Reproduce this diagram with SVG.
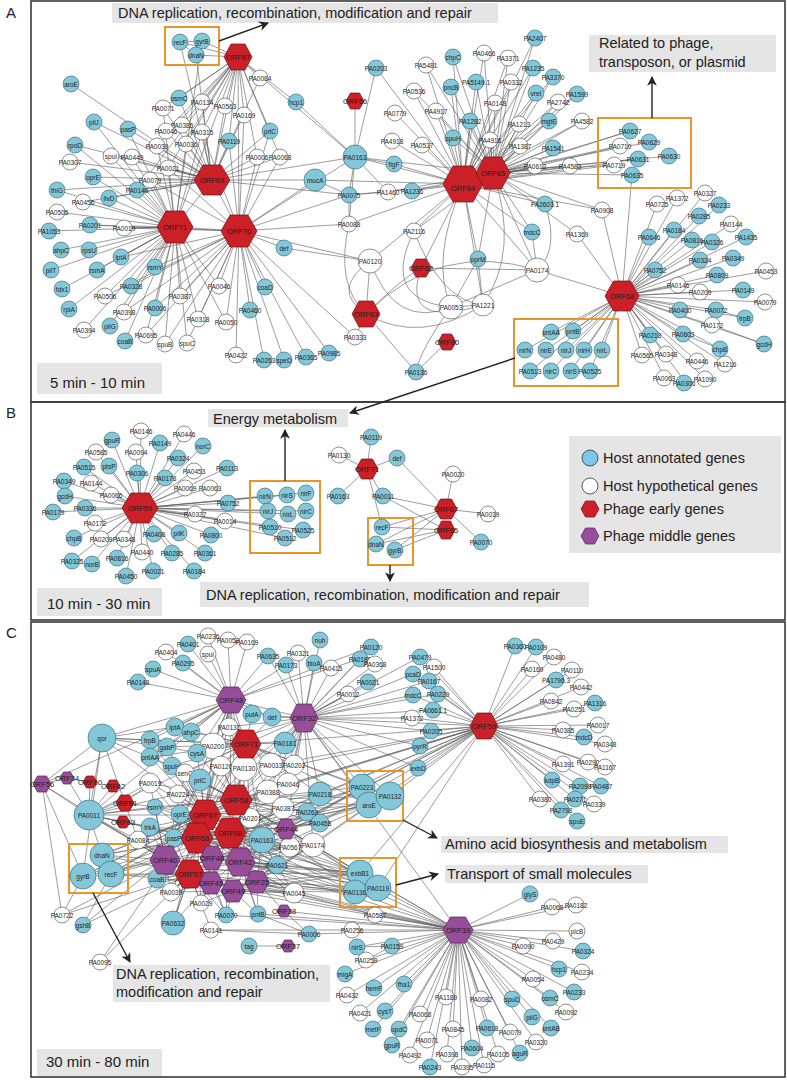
<svg xmlns="http://www.w3.org/2000/svg" xmlns:xlink="http://www.w3.org/1999/xlink" width="787" height="1080" viewBox="0 0 787 1080">
<style>
text{font-family:"Liberation Sans",Arial,sans-serif}
.b{fill:#84c7d8;stroke:#2d5f6b;stroke-width:.6}
.w{fill:#fff;stroke:#444;stroke-width:.6}
.r{fill:#cc2028;stroke:#6e1014}
.p{fill:#984d9a;stroke:#4d224f}
.n text{font-size:6.5px;text-anchor:middle;fill:#1e1e1e;dominant-baseline:central}
.n text.h{font-size:7.5px}
.e{fill:none;stroke:#5a5a5a;stroke-width:.6}
.fr{fill:none;stroke:#3a3a3a;stroke-width:1.6}
.lb{fill:#e5e5e5}
.lt{font-size:14.5px;fill:#222}
.ob{fill:none;stroke:#e8952b;stroke-width:2}
.ar{stroke:#222;stroke-width:1.4;fill:none;marker-end:url(#ah)}
</style>
<defs>
<polygon id="hx" points="-1,0 -0.5,-1 0.5,-1 1,0 0.5,1 -0.5,1" vector-effect="non-scaling-stroke" style="stroke-width:0.7"/>
<marker id="ah" viewBox="0 0 10 10" refX="9" refY="5" markerWidth="7" markerHeight="7" orient="auto"><path d="M0 0L10 5L0 10L3 5z" fill="#222"/></marker>
</defs>
<rect width="787" height="1080" fill="#fff"/>
<g id="frames">
<rect class="fr" x="31" y="1" width="754" height="401"/>
<rect class="fr" x="31" y="402" width="754" height="218"/>
<rect class="fr" x="31" y="622" width="754" height="455"/>
<text x="6" y="18" style="font-size:15px;fill:#222">A</text>
<text x="6" y="418" style="font-size:15px;fill:#222">B</text>
<text x="6" y="638" style="font-size:15px;fill:#222">C</text>
</g>
<g id="connectors">
<path class="e" d="M238 57L180 42M238 57L202 41M238 57L196 55M238 57L260 78M238 57L179 98M238 57L202 102M238 57L225 106M238 57L244 115M238 57L202 132M238 57L229 141M238 57L186 144M238 57L157 146M238 57L270 131M238 57L257 157M238 57L280 157M238 57L296 102M238 57L168 168M238 57L182 125M238 57L166 131M238 57L163 108M238 57L212 180M238 57L239 231M238 57L175 227M238 57L355 157M238 57L137 190M180 42L202 41M180 42L196 55M202 41L196 55M180 42L212 180M196 55L212 180M202 41L175 227"/>
<path class="e" d="M212 180L71 84M212 180L94 122M212 180L128 129M212 180L163 108M212 180L179 98M212 180L202 102M212 180L225 106M212 180L244 115M212 180L182 125M212 180L166 131M212 180L202 132M212 180L229 141M212 180L157 146M212 180L186 144M212 180L132 157M212 180L111 156M212 180L75 145M212 180L70 162M212 180L93 177M212 180L150 180M212 180L57 190M212 180L137 190M212 180L168 168M212 180L270 131M212 180L257 157M212 180L280 157M212 180L315 180M212 180L355 157M212 180L260 78M212 180L175 227M212 180L239 231M212 180L349 195M212 180L83 202M212 180L109 198"/>
<path class="e" d="M175 227L57 190M175 227L83 202M175 227L109 198M175 227L137 190M175 227L57 212M175 227L49 231M175 227L90 225M175 227L124 228M175 227L61 250M175 227L89 250M175 227L121 257M175 227L51 270M175 227L97 270M175 227L155 267M175 227L62 289M175 227L131 286M175 227L105 296M175 227L69 309M175 227L124 312M175 227L155 308M175 227L84 330M175 227L110 326M175 227L125 341M175 227L146 335M175 227L165 344M175 227L187 343M175 227L180 296M175 227L198 319M175 227L219 286M175 227L226 322M175 227L93 177M175 227L150 180M175 227L132 157M175 227L157 146M175 227L168 168M175 227L128 129M175 227L94 122M175 227L75 145M175 227L111 156M175 227L163 108M175 227L239 231M175 227L202 132M175 227L186 144"/>
<path class="e" d="M239 231L284 248M239 231L265 287M239 231L250 310M239 231L226 322M239 231L198 319M239 231L219 286M239 231L236 355M239 231L264 360M239 231L284 360M239 231L306 357M239 231L329 353M239 231L355 337M239 231L180 296M239 231L187 343M239 231L165 344M239 231L155 308M239 231L155 267M239 231L121 257M239 231L131 286M239 231L124 312M239 231L315 180M239 231L349 224M239 231L370 261M239 231L349 195M239 231L355 157M239 231L90 225M239 231L124 228M239 231L150 180M239 231L168 168M239 231L229 141M239 231L257 157M239 231L270 131M239 231L280 157M239 231L244 115M239 231L202 132M239 231L146 335M239 231L105 296"/>
<path class="e" d="M296 102L355 157M355 101L355 157M376 68L355 157M376 68L463 184M355 157L349 195M355 157L394 164M355 157L388 192M355 157L463 184M355 157L493 173M355 157L349 224M315 180L463 184M315 180L349 195M284 248L370 261M349 195L463 184M349 195L388 192M349 195L349 224M349 224L463 184M370 261L463 184M370 261L366 314M394 164L463 184M388 192L493 173"/>
<path class="e" d="M463 184L535 38M463 184L484 53M463 184L508 58M463 184L453 57M463 184L426 65M463 184L533 68M463 184L553 77M463 184L476 82M463 184L511 82M463 184L451 87M463 184L414 91M463 184L536 93M463 184L577 94M463 184L495 103M463 184L558 102M463 184L395 113M463 184L436 111M463 184L470 121M463 184L519 124M463 184L549 121M463 184L582 121M463 184L392 141M463 184L422 145M463 184L453 138M463 184L490 140M463 184L520 146M463 184L553 148M463 184L535 166M463 184L570 166M463 184L630 131M463 184L620 146M463 184L614 165M463 184L638 159M463 184L412 191M463 184L545 204M463 184L532 232M463 184L414 231M463 184L478 259M463 184L537 270M463 184L483 305M463 184L421 268M463 184L602 210"/>
<path class="e" d="M493 173L535 38M493 173L484 53M493 173L508 58M493 173L453 57M493 173L426 65M493 173L533 68M493 173L553 77M493 173L476 82M493 173L511 82M493 173L451 87M493 173L414 91M493 173L536 93M493 173L577 94M493 173L495 103M493 173L558 102M493 173L436 111M493 173L470 121M493 173L519 124M493 173L549 121M493 173L582 121M493 173L453 138M493 173L490 140M493 173L520 146M493 173L553 148M493 173L535 166M493 173L570 166M493 173L630 131M493 173L649 142M493 173L620 146M493 173L669 156M493 173L638 159M493 173L614 165M493 173L632 175M493 173L545 204M493 173L532 232M493 173L602 210M493 173L577 234M493 173L478 259M493 173L537 270M493 173L412 191M493 173L414 231"/>
<path class="e" d="M463 184Q430 260 451 307M493 173Q520 250 483 305M414 231Q380 300 451 307M370 261Q395 330 451 307M366 314Q440 240 537 270M366 314Q420 345 483 305M421 268L537 270M366 314Q400 280 421 268M451 307L483 305M451 307L537 270M478 259L451 307M478 259L483 305M532 232L537 270M545 204Q560 250 537 270M366 314L355 337M366 314L416 372M447 342L416 372M451 307Q420 350 416 372M370 261Q330 290 366 314M349 224Q335 285 366 314M414 231Q440 300 483 305M421 268Q400 330 483 305"/>
<path class="e" d="M622 296L657 204M622 296L677 198M622 296L705 193M622 296L719 205M622 296L699 216M622 296L731 224M622 296L649 237M622 296L674 230M622 296L692 240M622 296L712 242M622 296L746 237M622 296L700 260M622 296L733 258M622 296L655 270M622 296L717 275M622 296L766 271M622 296L678 285M622 296L700 292M622 296L743 290M622 296L765 302M622 296L680 310M622 296L716 310M622 296L745 318M622 296L712 325M622 296L650 335M622 296L683 334M622 296L764 344M622 296L720 349M622 296L642 355M622 296L666 354M622 296L697 361M622 296L725 364M622 296L665 378M622 296L685 382M622 296L705 379M622 296L551 332M622 296L573 331M622 296L525 350M622 296L546 350M622 296L566 350M622 296L584 350M622 296L602 350M622 296L530 371M622 296L551 371M622 296L571 371M622 296L590 371M622 296L537 270M622 296L577 234M622 296L602 210M622 296L632 175M716 310L745 318M712 325L764 344M683 334L720 349"/>
<path class="e" d="M140 508L141 431M140 508L184 434M140 508L112 440M140 508L160 443M140 508L203 446M140 508L96 452M140 508L136 452M140 508L178 458M140 508L227 468M140 508L84 467M140 508L109 466M140 508L137 473M140 508L194 471M140 508L165 478M140 508L64 481M140 508L91 483M140 508L185 488M140 508L210 488M140 508L65 496M140 508L111 495M140 508L228 503M140 508L85 508M140 508L53 512M140 508L195 514M140 508L225 521M140 508L95 523M140 508L154 534M140 508L179 533M140 508L211 535M140 508L74 538M140 508L101 539M140 508L124 539M140 508L142 552M140 508L172 553M140 508L205 553M140 508L72 561M140 508L92 564M140 508L117 558M140 508L153 571M140 508L126 576M140 508L194 571M140 508L265 496M140 508L287 495M140 508L306 493M140 508L268 511M140 508L288 514M140 508L306 511M140 508L270 527M140 508L303 530M140 508L285 538"/>
<path class="e" d="M367 469L371 437M367 469L339 455M367 469L397 458M367 469L338 496M367 469L383 496M367 469L382 527M446 509L397 458M446 509L453 474M446 509L488 514M446 509L481 542M446 509L383 496M446 509L382 527M446 509L376 544M446 509L395 550M446 530L383 496M446 530L382 527M446 530L376 544M446 530L395 550"/>
<path class="e" d="M231 700L208 636M231 700L228 640M231 700L247 642M231 700L188 644M231 700L166 652M231 700L208 654M231 700L183 663M231 700L153 669M231 700L138 682M231 700L268 656M231 700L286 665M231 700L102 738M231 700L175 727M231 700L191 732M231 700L229 727M231 700L252 714M231 700L272 717M231 700L213 746M231 700L246 744M231 700L167 747M231 700L197 753M231 700L150 740M231 700L150 757M231 700L221 766M231 700L244 768M231 700L205 815M231 700L197 838M231 700L190 874M231 700L165 860M231 700L89 815M231 700L42 784M231 700L360 659M231 700L371 647M231 700L304 718M231 700L236 800M231 700L230 833"/>
<path class="e" d="M304 718L320 640M304 718L371 647M304 718L298 653M304 718L314 663M304 718L331 668M304 718L360 659M304 718L375 664M304 718L368 682M304 718L348 694M304 718L286 665M304 718L268 656M304 718L272 717M304 718L252 714M304 718L285 743M304 718L229 727M304 718L246 744M304 718L271 765M304 718L294 765M304 718L244 768M304 718L236 800M304 718L230 833M304 718L286 829M304 718L320 794M304 718L268 792M304 718L288 784M304 718L420 657M304 718L413 674M304 718L429 681M304 718L413 695M304 718L438 694M304 718L412 718M304 718L433 710M304 718L431 731M304 718L420 746M304 718L418 768M304 718L362 787M304 718L390 796M304 718L369 805M304 718L484 726M304 718L458 930M304 718L213 746M304 718L205 815M304 718L262 840M304 718L313 845"/>
<path class="e" d="M484 726L515 646M484 726L536 647M484 726L554 657M484 726L532 669M484 726L572 670M484 726L556 680M484 726L581 687M484 726L551 701M484 726L595 703M484 726L574 709M484 726L598 725M484 726L563 730M484 726L584 737M484 726L605 744M484 726L563 764M484 726L588 762M484 726L605 767M484 726L552 780M484 726L580 786M484 726L601 786M484 726L540 799M484 726L575 799M484 726L594 804M484 726L561 810M484 726L577 821M484 726L420 657M484 726L434 667M484 726L413 674M484 726L429 681M484 726L413 695M484 726L438 694M484 726L433 710M484 726L412 718M484 726L431 731M484 726L420 746M484 726L418 768M484 726L390 796M484 726L320 794M484 726L307 812M484 726L320 823M484 726L313 845M484 726L286 829M484 726L236 800M484 726L230 833M484 726L262 840M484 726L288 784M484 726L268 792M484 726L294 765M484 726L271 765M484 726L246 744M484 726L360 873M484 726L378 888"/>
<path class="e" d="M458 930L530 894M458 930L552 907M458 930L576 905M458 930L577 931M458 930L553 941M458 930L523 946M458 930L583 951M458 930L392 946M458 930L559 969M458 930L582 972M458 930L404 984M458 930L533 979M458 930L574 992M458 930L446 997M458 930L481 999M458 930L512 999M458 930L550 998M458 930L566 1012M458 930L420 1014M458 930L532 1017M458 930L399 1029M458 930L453 1029M458 930L487 1028M458 930L510 1032M458 930L551 1028M458 930L427 1040M458 930L536 1042M458 930L447 1054M458 930L472 1048M458 930L498 1054M458 930L520 1053M458 930L410 1055M458 930L430 1067M458 930L462 1067M458 930L484 1065M458 930L392 1045M458 930L373 1029M458 930L385 1011M458 930L374 988M458 930L345 974M458 930L347 995M458 930L360 1013M458 930L357 947M458 930L366 960M458 930L352 930M458 930L309 934M458 930L375 915M458 930L294 893M458 930L378 888M458 930L355 892M458 930L360 873M458 930L313 845M458 930L262 840M458 930L240 862M458 930L257 882M458 930L233 891M458 930L211 883M458 930L190 874M458 930L226 915M458 930L258 914M458 930L284 911"/>
<path class="e" d="M246 744L213 746M246 744L229 727M246 744L252 714M246 744L272 717M246 744L285 743M246 744L244 768M246 744L221 766M246 744L271 765M246 744L294 765M246 744L197 753M246 744L191 732M246 744L175 727M246 744L167 747M246 744L150 740M246 744L150 757M246 744L172 766M246 744L185 773M246 744L200 780M246 744L236 800M246 744L205 815M246 744L268 792M246 744L288 784M246 744L250 818M246 744L230 833M246 744L197 838M246 744L262 840M246 744L320 794M246 744L102 738M246 744L89 815M246 744L165 860M246 744L240 862M246 744L362 787M246 744L390 796M246 744L369 805"/>
<path class="e" d="M236 800L185 773M236 800L200 780M236 800L178 794M236 800L150 783M236 800L155 807M236 800L180 814M236 800L268 792M236 800L288 784M236 800L283 808M236 800L250 818M236 800L307 812M236 800L320 794M236 800L320 823M236 800L262 840M236 800L290 846M236 800L313 845M236 800L277 865M236 800L221 766M236 800L244 768M236 800L271 765M236 800L294 765M236 800L213 746M236 800L197 753M236 800L172 766M236 800L150 757M236 800L89 815M236 800L138 840M236 800L362 787M236 800L369 805M236 800L390 796M236 800L360 873M236 800L355 892M236 800L378 888M236 800L102 855M236 800L111 874M236 800L83 876M236 800L294 893"/>
<path class="e" d="M205 815L150 783M205 815L178 794M205 815L155 807M205 815L180 814M205 815L150 827M205 815L174 838M205 815L138 840M205 815L89 815M205 815L185 773M205 815L200 780M205 815L221 766M205 815L244 768M205 815L213 746M205 815L197 753M205 815L172 766M205 815L150 757M205 815L167 747M205 815L150 740M205 815L102 738M205 815L250 818M205 815L268 792M205 815L283 808M205 815L262 840M205 815L102 855M205 815L111 874M205 815L83 876M205 815L157 879M205 815L171 892M205 815L277 865M205 815L313 845M205 815L320 794M205 815L369 805M205 815L360 873M205 815L378 888"/>
<path class="e" d="M197 838L150 827M197 838L174 838M197 838L138 840M197 838L89 815M197 838L155 807M197 838L180 814M197 838L178 794M197 838L150 783M197 838L102 855M197 838L111 874M197 838L83 876M197 838L157 879M197 838L171 892M197 838L201 903M197 838L226 915M197 838L173 923M197 838L262 840M197 838L250 818M197 838L283 808M197 838L290 846M197 838L313 845M197 838L277 865M197 838L294 893M197 838L355 892M197 838L360 873M197 838L378 888M197 838L369 805M197 838L362 787M197 838L320 823"/>
<path class="e" d="M230 833L262 840M230 833L250 818M230 833L283 808M230 833L268 792M230 833L288 784M230 833L290 846M230 833L313 845M230 833L277 865M230 833L307 812M230 833L320 823M230 833L320 794M230 833L294 893M230 833L258 914M230 833L226 915M230 833L201 903M230 833L171 892M230 833L157 879M230 833L174 838M230 833L150 827M230 833L180 814M230 833L155 807M230 833L360 873M230 833L355 892M230 833L378 888M230 833L362 787M230 833L369 805M230 833L390 796M230 833L102 855M230 833L111 874"/>
<path class="e" d="M190 874L157 879M190 874L171 892M190 874L201 903M190 874L226 915M190 874L173 923M190 874L100 962M190 874L211 930M190 874L83 876M190 874L111 874M190 874L102 855M190 874L62 915M190 874L83 925M190 874L138 840M190 874L150 827M190 874L174 838M190 874L89 815M190 874L294 893M190 874L355 892M190 874L360 873M190 874L262 840M190 874L277 865M165 860L102 855M165 860L111 874M165 860L83 876M165 860L89 815M165 860L138 840M165 860L150 827M165 860L174 838M165 860L155 807M165 860L180 814M165 860L157 879M165 860L171 892M165 860L200 780M165 860L185 773M165 860L150 783M165 860L62 915M165 860L83 925M165 860L355 892M165 860L360 873M165 860L262 840M165 860L313 845M165 860L42 784"/>
<path class="e" d="M212 858L174 838M212 858L150 827M212 858L180 814M212 858L262 840M212 858L250 818M212 858L277 865M212 858L290 846M212 858L313 845M212 858L360 873M212 858L378 888M212 858L157 879M212 858L171 892M212 858L201 903M240 862L262 840M240 862L250 818M240 862L283 808M240 862L277 865M240 862L290 846M240 862L313 845M240 862L294 893M240 862L258 914M240 862L360 873M240 862L355 892M240 862L378 888M240 862L369 805M240 862L362 787M240 862L174 838M240 862L180 814M240 862L157 879M211 883L157 879M211 883L171 892M211 883L201 903M211 883L226 915M211 883L173 923M211 883L294 893M211 883L355 892M211 883L262 840M211 883L277 865M211 883L138 840M211 883L111 874M233 891L258 914M233 891L226 915M233 891L294 893M233 891L355 892M233 891L360 873M233 891L277 865M233 891L262 840M233 891L313 845M233 891L171 892M233 891L201 903M257 882L277 865M257 882L294 893M257 882L313 845M257 882L290 846M257 882L262 840M257 882L355 892M257 882L360 873M257 882L378 888M257 882L258 914M257 882L284 911M257 882L369 805"/>
<path class="e" d="M286 829L262 840M286 829L290 846M286 829L313 845M286 829L307 812M286 829L320 823M286 829L320 794M286 829L283 808M286 829L268 792M286 829L277 865M286 829L362 787M286 829L369 805M286 829L390 796M286 829L360 873M286 829L378 888M42 784L89 815M42 784L102 738M42 784L83 876M42 784L62 915M42 784L67 778M67 778L89 815M67 778L90 782M102 738L89 815M102 738L175 727M102 738L150 740M102 738L167 747M102 738L150 757M102 738L83 876M102 738L138 840M125 803L89 815M125 803L155 807M125 803L150 783M123 822L89 815M123 822L150 827M113 786L89 815M90 782L89 815M89 815L102 855M89 815L150 783M89 815L178 794M89 815L155 807M89 815L138 840M89 815L150 827M249 946L288 946M211 930L309 934M211 930L352 930M309 934L284 911M309 934L258 914M100 962L157 879M173 923L190 874M83 925L111 874M62 915L83 876M375 915L294 893M357 947L392 946M366 960L392 946M362 787L369 805M369 805L390 796M362 787L390 796M360 873L378 888M378 888L355 892M360 873L355 892M175 727L191 732M150 740L167 747M197 753L213 746M167 747L197 753M150 757L172 766M191 732L197 753"/>
</g>
<g id="labels">
<rect class="lb" x="112" y="3" width="386" height="20"/>
<text class="lt" x="118" y="18">DNA replication, recombination, modification and repair</text>
<rect class="ob" x="165" y="27" width="54" height="38"/>
<line class="ar" x1="219" y1="41" x2="268" y2="23"/>
<rect class="lb" x="589" y="35" width="187" height="37"/>
<text class="lt" x="599" y="48">Related to phage,</text>
<text class="lt" x="599" y="67">transposon, or plasmid</text>
<rect class="ob" x="598" y="118" width="93" height="70"/>
<line class="ar" x1="652" y1="118" x2="652" y2="77"/>
<rect class="ob" x="514" y="319" width="104" height="67"/>
<line class="ar" x1="515" y1="358" x2="350" y2="413"/>
<rect class="lb" x="37" y="363" width="125" height="31"/>
<text class="lt" x="50" y="388" style="font-size:15px">5 min - 10 min</text>
<rect class="lb" x="208" y="409" width="140" height="18"/>
<text class="lt" x="213" y="424">Energy metabolism</text>
<rect class="ob" x="250" y="481" width="70" height="72"/>
<line class="ar" x1="285" y1="481" x2="285" y2="430"/>
<rect class="ob" x="368" y="518" width="45" height="47"/>
<line class="ar" x1="390" y1="565" x2="390" y2="581"/>
<rect class="lb" x="200" y="582" width="389" height="25"/>
<text class="lt" x="206" y="600">DNA replication, recombination, modification and repair</text>
<rect class="lb" x="37" y="588" width="125" height="28"/>
<text class="lt" x="47" y="609" style="font-size:15px">10 min - 30 min</text>
<rect class="lb" x="569" y="436" width="212" height="117"/>
<circle cx="590" cy="458" r="8" fill="#7cc8ec" stroke="#333" stroke-width=".8"/>
<text class="lt" x="603" y="463">Host annotated genes</text>
<circle cx="590" cy="486" r="8" fill="#fff" stroke="#333" stroke-width=".8"/>
<text class="lt" x="603" y="491">Host hypothetical genes</text>
<use xlink:href="#hx" class="r" transform="translate(590 509) scale(9 8)"/>
<text class="lt" x="603" y="514">Phage early genes</text>
<use xlink:href="#hx" class="p" transform="translate(590 536) scale(9 8)"/>
<text class="lt" x="603" y="541">Phage middle genes</text>
<rect class="ob" x="347" y="771" width="56" height="50"/>
<rect class="ob" x="340" y="858" width="56" height="49"/>
<rect class="ob" x="69" y="844" width="59" height="49"/>
<rect class="lb" x="441" y="836" width="287" height="17"/>
<text class="lt" x="445" y="849">Amino acid biosynthesis and metabolism</text>
<line class="ar" x1="403" y1="820" x2="437" y2="838"/>
<rect class="lb" x="445" y="865" width="203" height="18"/>
<text class="lt" x="447" y="879">Transport of small molecules</text>
<line class="ar" x1="396" y1="885" x2="438" y2="874"/>
<rect class="lb" x="113" y="965" width="217" height="37"/>
<text class="lt" x="116" y="979">DNA replication, recombination,</text>
<text class="lt" x="116" y="997">modification and repair</text>
<line class="ar" x1="93" y1="893" x2="130" y2="962"/>
<rect class="lb" x="37" y="1049" width="125" height="27"/>
<text class="lt" x="46" y="1067" style="font-size:15px">30 min - 80 min</text>
</g>
<g id="nodesA" class="n">
<g id="a-recF"><circle class="b" cx="180" cy="42" r="8"/><text x="180" y="42">recF</text></g>
<g id="a-gyrB"><circle class="b" cx="202" cy="41" r="8"/><text x="202" y="41">gyrB</text></g>
<g id="a-dnaN"><circle class="b" cx="196" cy="55" r="8"/><text x="196" y="55">dnaN</text></g>
<g id="a-PA0084"><circle class="w" cx="260" cy="78" r="8"/><text x="260" y="78">PA0084</text></g>
<g id="a-aroE"><circle class="b" cx="71" cy="84" r="8"/><text x="71" y="84">aroE</text></g>
<g id="a-osmC"><circle class="b" cx="179" cy="98" r="8"/><text x="179" y="98">osmC</text></g>
<g id="a-PA0134"><circle class="w" cx="202" cy="102" r="8"/><text x="202" y="102">PA0134</text></g>
<g id="a-PA0563"><circle class="w" cx="225" cy="106" r="8"/><text x="225" y="106">PA0563</text></g>
<g id="a-PA0071"><circle class="w" cx="163" cy="108" r="8"/><text x="163" y="108">PA0071</text></g>
<g id="a-PA0169"><circle class="w" cx="244" cy="115" r="8"/><text x="244" y="115">PA0169</text></g>
<g id="a-hcp1"><circle class="b" cx="296" cy="102" r="8"/><text x="296" y="102">hcp1</text></g>
<g id="a-pilJ"><circle class="b" cx="94" cy="122" r="8"/><text x="94" y="122">pilJ</text></g>
<g id="a-pasP"><circle class="b" cx="128" cy="129" r="8"/><text x="128" y="129">pasP</text></g>
<g id="a-PA0385"><circle class="w" cx="182" cy="125" r="8"/><text x="182" y="125">PA0385</text></g>
<g id="a-PA0046"><circle class="w" cx="166" cy="131" r="8"/><text x="166" y="131">PA0046</text></g>
<g id="a-PA0315"><circle class="w" cx="202" cy="132" r="8"/><text x="202" y="132">PA0315</text></g>
<g id="a-PA0119"><circle class="b" cx="229" cy="141" r="8"/><text x="229" y="141">PA0119</text></g>
<g id="a-prlC"><circle class="b" cx="270" cy="131" r="8"/><text x="270" y="131">prlC</text></g>
<g id="a-rpoD"><circle class="b" cx="75" cy="145" r="8"/><text x="75" y="145">rpoD</text></g>
<g id="a-spuI"><circle class="w" cx="111" cy="156" r="8"/><text x="111" y="156">spuI</text></g>
<g id="a-PA0449"><circle class="w" cx="132" cy="157" r="8"/><text x="132" y="157">PA0449</text></g>
<g id="a-PA0039"><circle class="w" cx="157" cy="146" r="8"/><text x="157" y="146">PA0039</text></g>
<g id="a-PA0036"><circle class="w" cx="186" cy="144" r="8"/><text x="186" y="144">PA0036</text></g>
<g id="a-PA0307"><circle class="w" cx="70" cy="162" r="8"/><text x="70" y="162">PA0307</text></g>
<g id="a-PA0021"><circle class="w" cx="168" cy="168" r="8"/><text x="168" y="168">PA0021</text></g>
<g id="a-PA0006"><circle class="w" cx="257" cy="157" r="8"/><text x="257" y="157">PA0006</text></g>
<g id="a-PA0068"><circle class="w" cx="280" cy="157" r="8"/><text x="280" y="157">PA0068</text></g>
<g id="a-oprE"><circle class="b" cx="93" cy="177" r="8"/><text x="93" y="177">oprE</text></g>
<g id="a-PA0079"><circle class="w" cx="150" cy="180" r="8"/><text x="150" y="180">PA0079</text></g>
<g id="a-thiG"><circle class="b" cx="57" cy="190" r="8"/><text x="57" y="190">thiG</text></g>
<g id="a-PA0146"><circle class="b" cx="137" cy="190" r="8"/><text x="137" y="190">PA0146</text></g>
<g id="a-PA0456"><circle class="w" cx="83" cy="202" r="8"/><text x="83" y="202">PA0456</text></g>
<g id="a-ilvD"><circle class="b" cx="109" cy="198" r="8"/><text x="109" y="198">ilvD</text></g>
<g id="a-PA0505"><circle class="w" cx="57" cy="212" r="8"/><text x="57" y="212">PA0505</text></g>
<g id="a-PA1053"><circle class="b" cx="49" cy="231" r="8"/><text x="49" y="231">PA1053</text></g>
<g id="a-PA0201"><circle class="b" cx="90" cy="225" r="8"/><text x="90" y="225">PA0201</text></g>
<g id="a-PA0019"><circle class="w" cx="124" cy="228" r="8"/><text x="124" y="228">PA0019</text></g>
<g id="a-ahpC"><circle class="b" cx="61" cy="250" r="8"/><text x="61" y="250">ahpC</text></g>
<g id="a-rpsU"><circle class="b" cx="89" cy="250" r="8"/><text x="89" y="250">rpsU</text></g>
<g id="a-lptA"><circle class="b" cx="121" cy="257" r="8"/><text x="121" y="257">lptA</text></g>
<g id="a-pilT"><circle class="b" cx="51" cy="270" r="8"/><text x="51" y="270">pilT</text></g>
<g id="a-rsmA"><circle class="b" cx="97" cy="270" r="8"/><text x="97" y="270">rsmA</text></g>
<g id="a-rsmY"><circle class="b" cx="155" cy="267" r="8"/><text x="155" y="267">rsmY</text></g>
<g id="a-fdx1"><circle class="b" cx="62" cy="289" r="8"/><text x="62" y="289">fdx1</text></g>
<g id="a-PA0328"><circle class="b" cx="131" cy="286" r="8"/><text x="131" y="286">PA0328</text></g>
<g id="a-PA0506"><circle class="w" cx="105" cy="296" r="8"/><text x="105" y="296">PA0506</text></g>
<g id="a-PA0387"><circle class="w" cx="180" cy="296" r="8"/><text x="180" y="296">PA0387</text></g>
<g id="a-PA0046b"><circle class="w" cx="219" cy="286" r="8"/><text x="219" y="286">PA0046</text></g>
<g id="a-coaD"><circle class="b" cx="265" cy="287" r="8"/><text x="265" y="287">coaD</text></g>
<g id="a-def"><circle class="b" cx="284" cy="248" r="8"/><text x="284" y="248">def</text></g>
<g id="a-rpiA"><circle class="b" cx="69" cy="309" r="8"/><text x="69" y="309">rpiA</text></g>
<g id="a-PA0398"><circle class="w" cx="124" cy="312" r="8"/><text x="124" y="312">PA0398</text></g>
<g id="a-PA0006b"><circle class="b" cx="155" cy="308" r="8"/><text x="155" y="308">PA0006</text></g>
<g id="a-PA0318"><circle class="w" cx="198" cy="319" r="8"/><text x="198" y="319">PA0318</text></g>
<g id="a-PA0050"><circle class="w" cx="226" cy="322" r="8"/><text x="226" y="322">PA0050</text></g>
<g id="a-PA0460"><circle class="b" cx="250" cy="310" r="8"/><text x="250" y="310">PA0460</text></g>
<g id="a-PA0394"><circle class="w" cx="84" cy="330" r="8"/><text x="84" y="330">PA0394</text></g>
<g id="a-pilG"><circle class="b" cx="110" cy="326" r="8"/><text x="110" y="326">pilG</text></g>
<g id="a-coaB"><circle class="b" cx="125" cy="341" r="8"/><text x="125" y="341">coaB</text></g>
<g id="a-PA0695"><circle class="w" cx="146" cy="335" r="8"/><text x="146" y="335">PA0695</text></g>
<g id="a-spuB"><circle class="w" cx="165" cy="344" r="8"/><text x="165" y="344">spuB</text></g>
<g id="a-spuC"><circle class="w" cx="187" cy="343" r="8"/><text x="187" y="343">spuC</text></g>
<g id="a-PA0422"><circle class="w" cx="236" cy="355" r="8"/><text x="236" y="355">PA0422</text></g>
<g id="a-PA0263"><circle class="b" cx="264" cy="360" r="8"/><text x="264" y="360">PA0263</text></g>
<g id="a-speD"><circle class="b" cx="284" cy="360" r="8"/><text x="284" y="360">speD</text></g>
<g id="a-PA0365"><circle class="b" cx="306" cy="357" r="8"/><text x="306" y="357">PA0365</text></g>
<g id="a-PA0985"><circle class="b" cx="329" cy="353" r="8"/><text x="329" y="353">PA0985</text></g>
<g id="a-mucA"><circle class="b" cx="315" cy="180" r="11"/><text x="315" y="180">mucA</text></g>
<g id="a-PA0163"><circle class="b" cx="355" cy="157" r="12"/><text x="355" y="157">PA0163</text></g>
<g id="a-PA0203"><circle class="b" cx="376" cy="68" r="8"/><text x="376" y="68">PA0203</text></g>
<g id="a-figF"><circle class="b" cx="394" cy="164" r="8"/><text x="394" y="164">figF</text></g>
<g id="a-PA0075"><circle class="b" cx="349" cy="195" r="8"/><text x="349" y="195">PA0075</text></g>
<g id="a-PA1460"><circle class="w" cx="388" cy="192" r="8"/><text x="388" y="192">PA1460</text></g>
<g id="a-PA0088"><circle class="w" cx="349" cy="224" r="8"/><text x="349" y="224">PA0088</text></g>
<g id="a-PA0120"><circle class="w" cx="370" cy="261" r="12"/><text x="370" y="261">PA0120</text></g>
<g id="a-PA0333"><circle class="w" cx="355" cy="337" r="8"/><text x="355" y="337">PA0333</text></g>
<g id="a-PA2407"><circle class="b" cx="535" cy="38" r="8"/><text x="535" y="38">PA2407</text></g>
<g id="a-PA0466"><circle class="w" cx="484" cy="53" r="8"/><text x="484" y="53">PA0466</text></g>
<g id="a-PA3371"><circle class="w" cx="508" cy="58" r="8"/><text x="508" y="58">PA3371</text></g>
<g id="a-chpC"><circle class="b" cx="453" cy="57" r="8"/><text x="453" y="57">chpC</text></g>
<g id="a-PA5481"><circle class="w" cx="426" cy="65" r="8"/><text x="426" y="65">PA5481</text></g>
<g id="a-PA1235"><circle class="b" cx="533" cy="68" r="8"/><text x="533" y="68">PA1235</text></g>
<g id="a-PA3370"><circle class="b" cx="553" cy="77" r="8"/><text x="553" y="77">PA3370</text></g>
<g id="a-PA5149.1"><circle class="b" cx="476" cy="82" r="8"/><text x="476" y="82">PA5149.1</text></g>
<g id="a-PA0332"><circle class="w" cx="511" cy="82" r="8"/><text x="511" y="82">PA0332</text></g>
<g id="a-pncB"><circle class="b" cx="451" cy="87" r="8"/><text x="451" y="87">pncB</text></g>
<g id="a-PA0536"><circle class="w" cx="414" cy="91" r="8"/><text x="414" y="91">PA0536</text></g>
<g id="a-vreI"><circle class="b" cx="536" cy="93" r="8"/><text x="536" y="93">vreI</text></g>
<g id="a-PA1599"><circle class="b" cx="577" cy="94" r="8"/><text x="577" y="94">PA1599</text></g>
<g id="a-PA0148"><circle class="w" cx="495" cy="103" r="8"/><text x="495" y="103">PA0148</text></g>
<g id="a-PA2742"><circle class="w" cx="558" cy="102" r="8"/><text x="558" y="102">PA2742</text></g>
<g id="a-PA0779"><circle class="w" cx="395" cy="113" r="8"/><text x="395" y="113">PA0779</text></g>
<g id="a-PA4917"><circle class="w" cx="436" cy="111" r="8"/><text x="436" y="111">PA4917</text></g>
<g id="a-PA1282"><circle class="b" cx="470" cy="121" r="8"/><text x="470" y="121">PA1282</text></g>
<g id="a-PA1213"><circle class="w" cx="519" cy="124" r="8"/><text x="519" y="124">PA1213</text></g>
<g id="a-mgtE"><circle class="b" cx="549" cy="121" r="8"/><text x="549" y="121">mgtE</text></g>
<g id="a-PA4582"><circle class="w" cx="582" cy="121" r="8"/><text x="582" y="121">PA4582</text></g>
<g id="a-PA4918"><circle class="w" cx="392" cy="141" r="8"/><text x="392" y="141">PA4918</text></g>
<g id="a-PA0537"><circle class="w" cx="422" cy="145" r="8"/><text x="422" y="145">PA0537</text></g>
<g id="a-spuH"><circle class="b" cx="453" cy="138" r="8"/><text x="453" y="138">spuH</text></g>
<g id="a-PA4916"><circle class="w" cx="490" cy="140" r="8"/><text x="490" y="140">PA4916</text></g>
<g id="a-PA1387"><circle class="w" cx="520" cy="146" r="8"/><text x="520" y="146">PA1387</text></g>
<g id="a-PA1541"><circle class="b" cx="553" cy="148" r="8"/><text x="553" y="148">PA1541</text></g>
<g id="a-PA0612"><circle class="w" cx="535" cy="166" r="8"/><text x="535" y="166">PA0612</text></g>
<g id="a-PA4583"><circle class="w" cx="570" cy="166" r="8"/><text x="570" y="166">PA4583</text></g>
<g id="a-PA0627"><circle class="b" cx="630" cy="131" r="8"/><text x="630" y="131">PA0627</text></g>
<g id="a-PA0629"><circle class="b" cx="649" cy="142" r="8"/><text x="649" y="142">PA0629</text></g>
<g id="a-PA0710"><circle class="w" cx="620" cy="146" r="8"/><text x="620" y="146">PA0710</text></g>
<g id="a-PA0630"><circle class="b" cx="669" cy="156" r="8"/><text x="669" y="156">PA0630</text></g>
<g id="a-PA0631"><circle class="b" cx="638" cy="159" r="8"/><text x="638" y="159">PA0631</text></g>
<g id="a-PA0719"><circle class="w" cx="614" cy="165" r="8"/><text x="614" y="165">PA0719</text></g>
<g id="a-PA0635"><circle class="b" cx="632" cy="175" r="8"/><text x="632" y="175">PA0635</text></g>
<g id="a-PA1236"><circle class="b" cx="412" cy="191" r="8"/><text x="412" y="191">PA1236</text></g>
<g id="a-PA2603.1"><circle class="b" cx="545" cy="204" r="8"/><text x="545" y="204">PA2603.1</text></g>
<g id="a-PA0908"><circle class="w" cx="602" cy="210" r="8"/><text x="602" y="210">PA0908</text></g>
<g id="a-PA2116"><circle class="w" cx="414" cy="231" r="8"/><text x="414" y="231">PA2116</text></g>
<g id="a-mdcC"><circle class="b" cx="532" cy="232" r="8"/><text x="532" y="232">mdcC</text></g>
<g id="a-PA1369"><circle class="w" cx="577" cy="234" r="8"/><text x="577" y="234">PA1369</text></g>
<g id="a-oprM"><circle class="b" cx="478" cy="259" r="8"/><text x="478" y="259">oprM</text></g>
<g id="a-PA0174"><circle class="w" cx="537" cy="270" r="12"/><text x="537" y="270">PA0174</text></g>
<g id="a-PA0053"><circle class="w" cx="451" cy="307" r="12"/><text x="451" y="307">PA0053</text></g>
<g id="a-PA1221"><circle class="w" cx="483" cy="305" r="11"/><text x="483" y="305">PA1221</text></g>
<g id="a-PA0136"><circle class="b" cx="416" cy="372" r="8"/><text x="416" y="372">PA0136</text></g>
<g id="a-PA0725"><circle class="w" cx="657" cy="204" r="8"/><text x="657" y="204">PA0725</text></g>
<g id="a-PA1372"><circle class="w" cx="677" cy="198" r="8"/><text x="677" y="198">PA1372</text></g>
<g id="a-PA0327"><circle class="w" cx="705" cy="193" r="8"/><text x="705" y="193">PA0327</text></g>
<g id="a-PA0233"><circle class="b" cx="719" cy="205" r="8"/><text x="719" y="205">PA0233</text></g>
<g id="a-PA0285"><circle class="b" cx="699" cy="216" r="8"/><text x="699" y="216">PA0285</text></g>
<g id="a-PA0144"><circle class="w" cx="731" cy="224" r="8"/><text x="731" y="224">PA0144</text></g>
<g id="a-PA0646"><circle class="b" cx="649" cy="237" r="8"/><text x="649" y="237">PA0646</text></g>
<g id="a-PA0184"><circle class="b" cx="674" cy="230" r="8"/><text x="674" y="230">PA0184</text></g>
<g id="a-PA0816"><circle class="b" cx="692" cy="240" r="8"/><text x="692" y="240">PA0816</text></g>
<g id="a-PA0326"><circle class="b" cx="712" cy="242" r="8"/><text x="712" y="242">PA0326</text></g>
<g id="a-PA1435"><circle class="b" cx="746" cy="237" r="8"/><text x="746" y="237">PA1435</text></g>
<g id="a-PA0324"><circle class="b" cx="700" cy="260" r="8"/><text x="700" y="260">PA0324</text></g>
<g id="a-PA0349"><circle class="b" cx="733" cy="258" r="8"/><text x="733" y="258">PA0349</text></g>
<g id="a-PA0752"><circle class="b" cx="655" cy="270" r="8"/><text x="655" y="270">PA0752</text></g>
<g id="a-PA0809"><circle class="b" cx="717" cy="275" r="8"/><text x="717" y="275">PA0809</text></g>
<g id="a-PA0453"><circle class="w" cx="766" cy="271" r="8"/><text x="766" y="271">PA0453</text></g>
<g id="a-PA0146r"><circle class="w" cx="678" cy="285" r="8"/><text x="678" y="285">PA0146</text></g>
<g id="a-PA0209"><circle class="w" cx="700" cy="292" r="8"/><text x="700" y="292">PA0209</text></g>
<g id="a-PA0149"><circle class="b" cx="743" cy="290" r="8"/><text x="743" y="290">PA0149</text></g>
<g id="a-PA0079r"><circle class="w" cx="765" cy="302" r="8"/><text x="765" y="302">PA0079</text></g>
<g id="a-PA0400"><circle class="b" cx="680" cy="310" r="8"/><text x="680" y="310">PA0400</text></g>
<g id="a-PA0072"><circle class="b" cx="716" cy="310" r="8"/><text x="716" y="310">PA0072</text></g>
<g id="a-trpB"><circle class="b" cx="745" cy="318" r="8"/><text x="745" y="318">trpB</text></g>
<g id="a-PA0172"><circle class="w" cx="712" cy="325" r="8"/><text x="712" y="325">PA0172</text></g>
<g id="a-PA0218"><circle class="b" cx="650" cy="335" r="8"/><text x="650" y="335">PA0218</text></g>
<g id="a-PA0603"><circle class="b" cx="683" cy="334" r="8"/><text x="683" y="334">PA0603</text></g>
<g id="a-gcdH"><circle class="b" cx="764" cy="344" r="8"/><text x="764" y="344">gcdH</text></g>
<g id="a-chpB"><circle class="b" cx="720" cy="349" r="8"/><text x="720" y="349">chpB</text></g>
<g id="a-PA0565"><circle class="w" cx="642" cy="355" r="8"/><text x="642" y="355">PA0565</text></g>
<g id="a-PA0348"><circle class="w" cx="666" cy="354" r="8"/><text x="666" y="354">PA0348</text></g>
<g id="a-PA0446"><circle class="w" cx="697" cy="361" r="8"/><text x="697" y="361">PA0446</text></g>
<g id="a-PA1216"><circle class="w" cx="725" cy="364" r="8"/><text x="725" y="364">PA1216</text></g>
<g id="a-PA0063"><circle class="w" cx="664" cy="378" r="8"/><text x="664" y="378">PA0063</text></g>
<g id="a-PA0306"><circle class="b" cx="684" cy="383" r="8"/><text x="684" y="383">PA0306</text></g>
<g id="a-PA1090"><circle class="w" cx="705" cy="379" r="8"/><text x="705" y="379">PA1090</text></g>
<g id="a-pntAA"><circle class="b" cx="551" cy="332" r="8"/><text x="551" y="332">pntAA</text></g>
<g id="a-pntB"><circle class="b" cx="573" cy="331" r="8"/><text x="573" y="331">pntB</text></g>
<g id="a-nirN"><circle class="b" cx="525" cy="350" r="8"/><text x="525" y="350">nirN</text></g>
<g id="a-nirE"><circle class="b" cx="546" cy="350" r="8"/><text x="546" y="350">nirE</text></g>
<g id="a-nirJ"><circle class="b" cx="566" cy="350" r="8"/><text x="566" y="350">nirJ</text></g>
<g id="a-nirH"><circle class="b" cx="584" cy="350" r="8"/><text x="584" y="350">nirH</text></g>
<g id="a-nirL"><circle class="b" cx="602" cy="350" r="8"/><text x="602" y="350">nirL</text></g>
<g id="a-PA0513"><circle class="b" cx="530" cy="371" r="8"/><text x="530" y="371">PA0513</text></g>
<g id="a-nirC"><circle class="b" cx="551" cy="371" r="8"/><text x="551" y="371">nirC</text></g>
<g id="a-nirS"><circle class="b" cx="571" cy="371" r="8"/><text x="571" y="371">nirS</text></g>
<g id="a-PA0525"><circle class="b" cx="590" cy="371" r="8"/><text x="590" y="371">PA0525</text></g>
<g id="a-ORF66"><use xlink:href="#hx" class="r" transform="translate(355 101) scale(9 8)"/><text class="h" x="355" y="101">ORF66</text></g>
<g id="a-ORF67"><use xlink:href="#hx" class="r" transform="translate(238 57) scale(14 13)"/><text class="h" x="238" y="57">ORF67</text></g>
<g id="a-ORF69"><use xlink:href="#hx" class="r" transform="translate(212 180) scale(18 15)"/><text class="h" x="212" y="180">ORF69</text></g>
<g id="a-ORF71"><use xlink:href="#hx" class="r" transform="translate(175 227) scale(18 16)"/><text class="h" x="175" y="227">ORF71</text></g>
<g id="a-ORF70"><use xlink:href="#hx" class="r" transform="translate(239 231) scale(18 16)"/><text class="h" x="239" y="231">ORF70</text></g>
<g id="a-ORF63"><use xlink:href="#hx" class="r" transform="translate(366 314) scale(14 13)"/><text class="h" x="366" y="314">ORF63</text></g>
<g id="a-ORF62"><use xlink:href="#hx" class="r" transform="translate(421 268) scale(10 9)"/><text class="h" x="421" y="268">ORF62</text></g>
<g id="a-ORF60"><use xlink:href="#hx" class="r" transform="translate(447 342) scale(9 8)"/><text class="h" x="447" y="342">ORF60</text></g>
<g id="a-ORF64"><use xlink:href="#hx" class="r" transform="translate(463 184) scale(20 18)"/><text class="h" x="463" y="188">ORF64</text></g>
<g id="a-ORF65"><use xlink:href="#hx" class="r" transform="translate(493 173) scale(17 16)"/><text class="h" x="493" y="173">ORF65</text></g>
<g id="a-ORF68"><use xlink:href="#hx" class="r" transform="translate(622 296) scale(17 15)"/><text class="h" x="622" y="296">ORF68</text></g>
</g>
<g id="nodesB" class="n">
<g id="b-PA0146"><circle class="w" cx="141" cy="431" r="8"/><text x="141" y="431">PA0146</text></g>
<g id="b-PA0446"><circle class="w" cx="184" cy="434" r="8"/><text x="184" y="434">PA0446</text></g>
<g id="b-gpuR"><circle class="b" cx="112" cy="440" r="8"/><text x="112" y="440">gpuR</text></g>
<g id="b-PA0149"><circle class="b" cx="160" cy="443" r="8"/><text x="160" y="443">PA0149</text></g>
<g id="b-norC"><circle class="b" cx="203" cy="446" r="8"/><text x="203" y="446">norC</text></g>
<g id="b-PA0585"><circle class="w" cx="96" cy="452" r="8"/><text x="96" y="452">PA0585</text></g>
<g id="b-PA0094"><circle class="w" cx="136" cy="452" r="8"/><text x="136" y="452">PA0094</text></g>
<g id="b-PA0324"><circle class="b" cx="178" cy="458" r="8"/><text x="178" y="458">PA0324</text></g>
<g id="b-PA0113"><circle class="b" cx="227" cy="468" r="8"/><text x="227" y="468">PA0113</text></g>
<g id="b-PA0515"><circle class="b" cx="84" cy="467" r="8"/><text x="84" y="467">PA0515</text></g>
<g id="b-ptsP"><circle class="b" cx="109" cy="466" r="8"/><text x="109" y="466">ptsP</text></g>
<g id="b-PA0306"><circle class="b" cx="137" cy="473" r="8"/><text x="137" y="473">PA0306</text></g>
<g id="b-PA0453"><circle class="w" cx="194" cy="471" r="8"/><text x="194" y="471">PA0453</text></g>
<g id="b-PA0178"><circle class="b" cx="165" cy="478" r="8"/><text x="165" y="478">PA0178</text></g>
<g id="b-PA0349"><circle class="b" cx="64" cy="481" r="8"/><text x="64" y="481">PA0349</text></g>
<g id="b-PA0144"><circle class="w" cx="91" cy="483" r="8"/><text x="91" y="483">PA0144</text></g>
<g id="b-PA0069"><circle class="w" cx="185" cy="488" r="8"/><text x="185" y="488">PA0069</text></g>
<g id="b-PA0063"><circle class="w" cx="210" cy="488" r="8"/><text x="210" y="488">PA0063</text></g>
<g id="b-gcdH"><circle class="b" cx="65" cy="496" r="8"/><text x="65" y="496">gcdH</text></g>
<g id="b-PA0066"><circle class="w" cx="111" cy="495" r="8"/><text x="111" y="495">PA0066</text></g>
<g id="b-PA0752"><circle class="b" cx="228" cy="503" r="8"/><text x="228" y="503">PA0752</text></g>
<g id="b-PA0336"><circle class="b" cx="85" cy="508" r="8"/><text x="85" y="508">PA0336</text></g>
<g id="b-PA0179"><circle class="b" cx="53" cy="512" r="8"/><text x="53" y="512">PA0179</text></g>
<g id="b-PA0327"><circle class="w" cx="195" cy="514" r="8"/><text x="195" y="514">PA0327</text></g>
<g id="b-PA0014"><circle class="w" cx="225" cy="521" r="8"/><text x="225" y="521">PA0014</text></g>
<g id="b-PA0172"><circle class="w" cx="95" cy="523" r="8"/><text x="95" y="523">PA0172</text></g>
<g id="b-PA0408"><circle class="b" cx="154" cy="534" r="8"/><text x="154" y="534">PA0408</text></g>
<g id="b-pilK"><circle class="b" cx="179" cy="533" r="8"/><text x="179" y="533">pilK</text></g>
<g id="b-PA0800"><circle class="b" cx="211" cy="535" r="8"/><text x="211" y="535">PA0800</text></g>
<g id="b-chpB"><circle class="b" cx="74" cy="538" r="8"/><text x="74" y="538">chpB</text></g>
<g id="b-PA0209"><circle class="w" cx="101" cy="539" r="8"/><text x="101" y="539">PA0209</text></g>
<g id="b-PA0348"><circle class="w" cx="124" cy="539" r="8"/><text x="124" y="539">PA0348</text></g>
<g id="b-PA0440"><circle class="w" cx="142" cy="552" r="8"/><text x="142" y="552">PA0440</text></g>
<g id="b-PA0285"><circle class="b" cx="172" cy="553" r="8"/><text x="172" y="553">PA0285</text></g>
<g id="b-PA0361"><circle class="b" cx="205" cy="553" r="8"/><text x="205" y="553">PA0361</text></g>
<g id="b-PA0325"><circle class="b" cx="72" cy="561" r="8"/><text x="72" y="561">PA0325</text></g>
<g id="b-norB"><circle class="b" cx="92" cy="564" r="8"/><text x="92" y="564">norB</text></g>
<g id="b-PA0816"><circle class="b" cx="117" cy="558" r="8"/><text x="117" y="558">PA0816</text></g>
<g id="b-PA0021"><circle class="b" cx="153" cy="571" r="8"/><text x="153" y="571">PA0021</text></g>
<g id="b-PA0450"><circle class="b" cx="126" cy="576" r="8"/><text x="126" y="576">PA0450</text></g>
<g id="b-PA0184"><circle class="b" cx="194" cy="571" r="8"/><text x="194" y="571">PA0184</text></g>
<g id="b-nirN"><circle class="b" cx="265" cy="496" r="8"/><text x="265" y="496">nirN</text></g>
<g id="b-nirS"><circle class="b" cx="287" cy="495" r="8"/><text x="287" y="495">nirS</text></g>
<g id="b-nirF"><circle class="b" cx="306" cy="493" r="8"/><text x="306" y="493">nirF</text></g>
<g id="b-nirJ"><circle class="b" cx="268" cy="511" r="8"/><text x="268" y="511">nirJ</text></g>
<g id="b-nirL"><circle class="b" cx="288" cy="514" r="8"/><text x="288" y="514">nirL</text></g>
<g id="b-nirC"><circle class="b" cx="306" cy="511" r="8"/><text x="306" y="511">nirC</text></g>
<g id="b-PA0510"><circle class="b" cx="270" cy="527" r="8"/><text x="270" y="527">PA0510</text></g>
<g id="b-PA0525"><circle class="b" cx="303" cy="530" r="8"/><text x="303" y="530">PA0525</text></g>
<g id="b-PA0512"><circle class="b" cx="285" cy="538" r="8"/><text x="285" y="538">PA0512</text></g>
<g id="b-PA0119"><circle class="b" cx="371" cy="437" r="8"/><text x="371" y="437">PA0119</text></g>
<g id="b-PA0130"><circle class="w" cx="339" cy="455" r="8"/><text x="339" y="455">PA0130</text></g>
<g id="b-def"><circle class="b" cx="397" cy="458" r="8"/><text x="397" y="458">def</text></g>
<g id="b-PA0163"><circle class="b" cx="338" cy="496" r="8"/><text x="338" y="496">PA0163</text></g>
<g id="b-PA0011"><circle class="b" cx="383" cy="496" r="8"/><text x="383" y="496">PA0011</text></g>
<g id="b-recF"><circle class="b" cx="382" cy="527" r="8"/><text x="382" y="527">recF</text></g>
<g id="b-dnaN"><circle class="b" cx="376" cy="544" r="8"/><text x="376" y="544">dnaN</text></g>
<g id="b-gyrB"><circle class="b" cx="395" cy="550" r="8"/><text x="395" y="550">gyrB</text></g>
<g id="b-PA0020"><circle class="w" cx="453" cy="474" r="8"/><text x="453" y="474">PA0020</text></g>
<g id="b-PA0039"><circle class="w" cx="488" cy="514" r="8"/><text x="488" y="514">PA0039</text></g>
<g id="b-PA0070"><circle class="b" cx="481" cy="542" r="8"/><text x="481" y="542">PA0070</text></g>
<g id="b-ORF59"><use xlink:href="#hx" class="r" transform="translate(140 508) scale(18 15)"/><text class="h" x="140" y="508">ORF59</text></g>
<g id="b-ORF71"><use xlink:href="#hx" class="r" transform="translate(367 469) scale(11 10)"/><text class="h" x="367" y="469">ORF71</text></g>
<g id="b-ORF67"><use xlink:href="#hx" class="r" transform="translate(446 509) scale(11 10)"/><text class="h" x="446" y="509">ORF67</text></g>
<g id="b-ORF65"><use xlink:href="#hx" class="r" transform="translate(446 530) scale(9 9)"/><text class="h" x="446" y="530">ORF65</text></g>
</g>
<g id="nodesC" class="n">
<g id="c-PA0236"><circle class="w" cx="208" cy="636" r="8"/><text x="208" y="636">PA0236</text></g>
<g id="c-PA0052"><circle class="w" cx="228" cy="640" r="8"/><text x="228" y="640">PA0052</text></g>
<g id="c-PA0169"><circle class="w" cx="247" cy="642" r="8"/><text x="247" y="642">PA0169</text></g>
<g id="c-PA0401"><circle class="b" cx="188" cy="644" r="8"/><text x="188" y="644">PA0401</text></g>
<g id="c-nuh"><circle class="b" cx="320" cy="640" r="8"/><text x="320" y="640">nuh</text></g>
<g id="c-PA0120"><circle class="b" cx="371" cy="647" r="8"/><text x="371" y="647">PA0120</text></g>
<g id="c-PA0404"><circle class="w" cx="166" cy="652" r="8"/><text x="166" y="652">PA0404</text></g>
<g id="c-spuI"><circle class="w" cx="208" cy="654" r="8"/><text x="208" y="654">spuI</text></g>
<g id="c-PA0321"><circle class="w" cx="298" cy="653" r="8"/><text x="298" y="653">PA0321</text></g>
<g id="c-PA0635"><circle class="b" cx="268" cy="656" r="8"/><text x="268" y="656">PA0635</text></g>
<g id="c-PA0173"><circle class="b" cx="286" cy="665" r="8"/><text x="286" y="665">PA0173</text></g>
<g id="c-bioA"><circle class="b" cx="314" cy="663" r="8"/><text x="314" y="663">bioA</text></g>
<g id="c-PA0415"><circle class="w" cx="331" cy="668" r="8"/><text x="331" y="668">PA0415</text></g>
<g id="c-PA0185"><circle class="b" cx="360" cy="659" r="8"/><text x="360" y="659">PA0185</text></g>
<g id="c-PA0368"><circle class="w" cx="375" cy="664" r="8"/><text x="375" y="664">PA0368</text></g>
<g id="c-PA0295"><circle class="b" cx="183" cy="663" r="8"/><text x="183" y="663">PA0295</text></g>
<g id="c-spuA"><circle class="b" cx="153" cy="669" r="8"/><text x="153" y="669">spuA</text></g>
<g id="c-PA0148"><circle class="b" cx="138" cy="682" r="8"/><text x="138" y="682">PA0148</text></g>
<g id="c-PA0021"><circle class="b" cx="368" cy="682" r="8"/><text x="368" y="682">PA0021</text></g>
<g id="c-PA0012"><circle class="w" cx="348" cy="694" r="8"/><text x="348" y="694">PA0012</text></g>
<g id="c-putA"><circle class="b" cx="252" cy="714" r="9"/><text x="252" y="714">putA</text></g>
<g id="c-def"><circle class="b" cx="272" cy="717" r="9"/><text x="272" y="717">def</text></g>
<g id="c-qor"><circle class="b" cx="102" cy="738" r="14"/><text x="102" y="738">qor</text></g>
<g id="c-lptA"><circle class="b" cx="175" cy="727" r="9"/><text x="175" y="727">lptA</text></g>
<g id="c-ahpC"><circle class="b" cx="191" cy="732" r="9"/><text x="191" y="732">ahpC</text></g>
<g id="c-PA0131"><circle class="w" cx="229" cy="727" r="9"/><text x="229" y="727">PA0131</text></g>
<g id="c-trpB"><circle class="b" cx="150" cy="740" r="9"/><text x="150" y="740">trpB</text></g>
<g id="c-PA0200"><circle class="w" cx="213" cy="746" r="13"/><text x="213" y="746">PA0200</text></g>
<g id="c-PA0181"><circle class="b" cx="285" cy="743" r="11"/><text x="285" y="743">PA0181</text></g>
<g id="c-gabP"><circle class="b" cx="167" cy="747" r="9"/><text x="167" y="747">gabP</text></g>
<g id="c-cysA"><circle class="b" cx="197" cy="753" r="9"/><text x="197" y="753">cysA</text></g>
<g id="c-pntAA"><circle class="b" cx="150" cy="757" r="9"/><text x="150" y="757">pntAA</text></g>
<g id="c-spuH"><circle class="b" cx="172" cy="766" r="9"/><text x="172" y="766">spuH</text></g>
<g id="c-PA0126"><circle class="w" cx="221" cy="766" r="10"/><text x="221" y="766">PA0126</text></g>
<g id="c-PA0130"><circle class="w" cx="244" cy="768" r="13"/><text x="244" y="768">PA0130</text></g>
<g id="c-PA0033"><circle class="w" cx="271" cy="765" r="12"/><text x="271" y="765">PA0033</text></g>
<g id="c-PA0202"><circle class="w" cx="294" cy="765" r="10"/><text x="294" y="765">PA0202</text></g>
<g id="c-PA0360"><circle class="b" cx="515" cy="646" r="8"/><text x="515" y="646">PA0360</text></g>
<g id="c-PA0109"><circle class="b" cx="536" cy="647" r="8"/><text x="536" y="647">PA0109</text></g>
<g id="c-PA0480"><circle class="w" cx="554" cy="657" r="8"/><text x="554" y="657">PA0480</text></g>
<g id="c-PA0479"><circle class="b" cx="420" cy="657" r="8"/><text x="420" y="657">PA0479</text></g>
<g id="c-PA1500"><circle class="w" cx="434" cy="667" r="8"/><text x="434" y="667">PA1500</text></g>
<g id="c-PA0169r"><circle class="w" cx="532" cy="669" r="8"/><text x="532" y="669">PA0169</text></g>
<g id="c-PA0110"><circle class="w" cx="572" cy="670" r="8"/><text x="572" y="670">PA0110</text></g>
<g id="c-pcaD"><circle class="b" cx="413" cy="674" r="8"/><text x="413" y="674">pcaD</text></g>
<g id="c-PA1796.3"><circle class="b" cx="556" cy="680" r="8"/><text x="556" y="680">PA1796.3</text></g>
<g id="c-PA0167"><circle class="b" cx="429" cy="681" r="8"/><text x="429" y="681">PA0167</text></g>
<g id="c-PA0442"><circle class="w" cx="581" cy="687" r="8"/><text x="581" y="687">PA0442</text></g>
<g id="c-mdcC"><circle class="b" cx="413" cy="695" r="8"/><text x="413" y="695">mdcC</text></g>
<g id="c-PA0229"><circle class="b" cx="438" cy="694" r="8"/><text x="438" y="694">PA0229</text></g>
<g id="c-PA0842"><circle class="w" cx="551" cy="701" r="8"/><text x="551" y="701">PA0842</text></g>
<g id="c-PA1316"><circle class="b" cx="595" cy="703" r="8"/><text x="595" y="703">PA1316</text></g>
<g id="c-PA0661.1"><circle class="b" cx="433" cy="710" r="8"/><text x="433" y="710">PA0661.1</text></g>
<g id="c-PA0251"><circle class="w" cx="574" cy="709" r="8"/><text x="574" y="709">PA0251</text></g>
<g id="c-PA1372"><circle class="w" cx="412" cy="718" r="8"/><text x="412" y="718">PA1372</text></g>
<g id="c-PA0017"><circle class="w" cx="598" cy="725" r="8"/><text x="598" y="725">PA0017</text></g>
<g id="c-PA0205"><circle class="b" cx="431" cy="731" r="8"/><text x="431" y="731">PA0205</text></g>
<g id="c-PA0385"><circle class="w" cx="563" cy="730" r="8"/><text x="563" y="730">PA0385</text></g>
<g id="c-mdcD"><circle class="b" cx="584" cy="737" r="8"/><text x="584" y="737">mdcD</text></g>
<g id="c-PA0348"><circle class="w" cx="605" cy="744" r="8"/><text x="605" y="744">PA0348</text></g>
<g id="c-pyrR"><circle class="b" cx="420" cy="746" r="8"/><text x="420" y="746">pyrR</text></g>
<g id="c-PA1391"><circle class="w" cx="563" cy="764" r="8"/><text x="563" y="764">PA1391</text></g>
<g id="c-PA0290"><circle class="w" cx="588" cy="762" r="8"/><text x="588" y="762">PA0290</text></g>
<g id="c-PA1167"><circle class="w" cx="605" cy="767" r="8"/><text x="605" y="767">PA1167</text></g>
<g id="c-exbD"><circle class="b" cx="418" cy="768" r="8"/><text x="418" y="768">exbD</text></g>
<g id="c-kdpB"><circle class="b" cx="552" cy="780" r="8"/><text x="552" y="780">kdpB</text></g>
<g id="c-PA2098"><circle class="b" cx="580" cy="786" r="8"/><text x="580" y="786">PA2098</text></g>
<g id="c-PA0487"><circle class="b" cx="601" cy="786" r="8"/><text x="601" y="786">PA0487</text></g>
<g id="c-PA0380"><circle class="w" cx="540" cy="799" r="8"/><text x="540" y="799">PA0380</text></g>
<g id="c-PA0271"><circle class="b" cx="575" cy="799" r="8"/><text x="575" y="799">PA0271</text></g>
<g id="c-PA0339"><circle class="w" cx="594" cy="804" r="8"/><text x="594" y="804">PA0339</text></g>
<g id="c-PA2798"><circle class="b" cx="561" cy="810" r="8"/><text x="561" y="810">PA2798</text></g>
<g id="c-spuE"><circle class="b" cx="577" cy="821" r="8"/><text x="577" y="821">spuE</text></g>
<g id="c-senC"><circle class="w" cx="185" cy="773" r="9"/><text x="185" y="773">senC</text></g>
<g id="c-prlC"><circle class="b" cx="200" cy="780" r="11"/><text x="200" y="780">prlC</text></g>
<g id="c-PA0019"><circle class="w" cx="150" cy="783" r="10"/><text x="150" y="783">PA0019</text></g>
<g id="c-PA0224"><circle class="w" cx="178" cy="794" r="9"/><text x="178" y="794">PA0224</text></g>
<g id="c-PA0011"><circle class="b" cx="89" cy="815" r="15"/><text x="89" y="815">PA0011</text></g>
<g id="c-rsmY"><circle class="b" cx="155" cy="807" r="8"/><text x="155" y="807">rsmY</text></g>
<g id="c-oprE"><circle class="b" cx="180" cy="814" r="9"/><text x="180" y="814">oprE</text></g>
<g id="c-PA0388"><circle class="w" cx="268" cy="792" r="12"/><text x="268" y="792">PA0388</text></g>
<g id="c-PA0046"><circle class="w" cx="288" cy="784" r="11"/><text x="288" y="784">PA0046</text></g>
<g id="c-PA0218"><circle class="b" cx="320" cy="794" r="12"/><text x="320" y="794">PA0218</text></g>
<g id="c-PA0387"><circle class="w" cx="283" cy="808" r="11"/><text x="283" y="808">PA0387</text></g>
<g id="c-PA0201"><circle class="w" cx="250" cy="818" r="10"/><text x="250" y="818">PA0201</text></g>
<g id="c-PA0263"><circle class="b" cx="307" cy="812" r="9"/><text x="307" y="812">PA0263</text></g>
<g id="c-PA0458"><circle class="b" cx="320" cy="823" r="9"/><text x="320" y="823">PA0458</text></g>
<g id="c-trkA"><circle class="b" cx="150" cy="827" r="9"/><text x="150" y="827">trkA</text></g>
<g id="c-pasP"><circle class="b" cx="174" cy="838" r="9"/><text x="174" y="838">pasP</text></g>
<g id="c-PA0084"><circle class="w" cx="138" cy="840" r="9"/><text x="138" y="840">PA0084</text></g>
<g id="c-PA0163"><circle class="b" cx="262" cy="840" r="13"/><text x="262" y="840">PA0163</text></g>
<g id="c-PA0567"><circle class="w" cx="290" cy="847" r="10"/><text x="290" y="847">PA0567</text></g>
<g id="c-PA0174"><circle class="w" cx="313" cy="845" r="12"/><text x="313" y="845">PA0174</text></g>
<g id="c-PA0621"><circle class="b" cx="277" cy="865" r="9"/><text x="277" y="865">PA0621</text></g>
<g id="c-dnaN"><circle class="b" cx="102" cy="855" r="12"/><text x="102" y="855">dnaN</text></g>
<g id="c-gyrB"><circle class="b" cx="83" cy="876" r="13"/><text x="83" y="876">gyrB</text></g>
<g id="c-recF"><circle class="b" cx="111" cy="874" r="13"/><text x="111" y="874">recF</text></g>
<g id="c-coaB"><circle class="b" cx="157" cy="879" r="9"/><text x="157" y="879">coaB</text></g>
<g id="c-PA0039"><circle class="w" cx="171" cy="892" r="9"/><text x="171" y="892">PA0039</text></g>
<g id="c-PA0045"><circle class="w" cx="294" cy="893" r="10"/><text x="294" y="893">PA0045</text></g>
<g id="c-PA0029"><circle class="w" cx="201" cy="903" r="8"/><text x="201" y="903">PA0029</text></g>
<g id="c-PA0070"><circle class="b" cx="226" cy="915" r="8"/><text x="226" y="915">PA0070</text></g>
<g id="c-pntB"><circle class="b" cx="258" cy="914" r="8"/><text x="258" y="914">pntB</text></g>
<g id="c-PA0722"><circle class="w" cx="62" cy="915" r="8"/><text x="62" y="915">PA0722</text></g>
<g id="c-PA0223"><circle class="b" cx="362" cy="787" r="13"/><text x="362" y="787">PA0223</text></g>
<g id="c-aroE"><circle class="b" cx="369" cy="805" r="13"/><text x="369" y="805">aroE</text></g>
<g id="c-PA0132"><circle class="b" cx="390" cy="796" r="14"/><text x="390" y="796">PA0132</text></g>
<g id="c-exbB1"><circle class="b" cx="360" cy="873" r="13"/><text x="360" y="873">exbB1</text></g>
<g id="c-PA0136"><circle class="b" cx="355" cy="892" r="12"/><text x="355" y="892">PA0136</text></g>
<g id="c-PA0119"><circle class="b" cx="378" cy="888" r="13"/><text x="378" y="888">PA0119</text></g>
<g id="c-PA0587"><circle class="w" cx="375" cy="915" r="8"/><text x="375" y="915">PA0587</text></g>
<g id="c-gshB"><circle class="b" cx="83" cy="925" r="8"/><text x="83" y="925">gshB</text></g>
<g id="c-PA0632"><circle class="b" cx="173" cy="923" r="12"/><text x="173" y="923">PA0632</text></g>
<g id="c-PA0141"><circle class="w" cx="211" cy="930" r="8"/><text x="211" y="930">PA0141</text></g>
<g id="c-PA0006"><circle class="b" cx="309" cy="934" r="8"/><text x="309" y="934">PA0006</text></g>
<g id="c-PA0256"><circle class="w" cx="352" cy="930" r="8"/><text x="352" y="930">PA0256</text></g>
<g id="c-tag"><circle class="b" cx="249" cy="946" r="8"/><text x="249" y="946">tag</text></g>
<g id="c-PA0095"><circle class="w" cx="100" cy="962" r="8"/><text x="100" y="962">PA0095</text></g>
<g id="c-nirS"><circle class="b" cx="357" cy="947" r="8"/><text x="357" y="947">nirS</text></g>
<g id="c-PA0159"><circle class="b" cx="392" cy="946" r="8"/><text x="392" y="946">PA0159</text></g>
<g id="c-PA0259"><circle class="w" cx="366" cy="960" r="8"/><text x="366" y="960">PA0259</text></g>
<g id="c-migA"><circle class="b" cx="345" cy="974" r="8"/><text x="345" y="974">migA</text></g>
<g id="c-hemF"><circle class="b" cx="374" cy="988" r="8"/><text x="374" y="988">hemF</text></g>
<g id="c-PA0432"><circle class="w" cx="347" cy="995" r="8"/><text x="347" y="995">PA0432</text></g>
<g id="c-PA0421"><circle class="w" cx="360" cy="1013" r="8"/><text x="360" y="1013">PA0421</text></g>
<g id="c-cysT"><circle class="b" cx="385" cy="1011" r="8"/><text x="385" y="1011">cysT</text></g>
<g id="c-metF"><circle class="b" cx="373" cy="1029" r="8"/><text x="373" y="1029">metF</text></g>
<g id="c-gpuR"><circle class="b" cx="392" cy="1045" r="8"/><text x="392" y="1045">gpuR</text></g>
<g id="c-glyS"><circle class="b" cx="530" cy="894" r="8"/><text x="530" y="894">glyS</text></g>
<g id="c-PA0068"><circle class="w" cx="552" cy="907" r="8"/><text x="552" y="907">PA0068</text></g>
<g id="c-PA0182"><circle class="w" cx="576" cy="905" r="8"/><text x="576" y="905">PA0182</text></g>
<g id="c-plcB"><circle class="w" cx="577" cy="931" r="8"/><text x="577" y="931">plcB</text></g>
<g id="c-PA0429"><circle class="w" cx="553" cy="941" r="8"/><text x="553" y="941">PA0429</text></g>
<g id="c-PA0090"><circle class="w" cx="523" cy="946" r="8"/><text x="523" y="946">PA0090</text></g>
<g id="c-PA0324"><circle class="b" cx="583" cy="951" r="8"/><text x="583" y="951">PA0324</text></g>
<g id="c-hcp1"><circle class="b" cx="559" cy="969" r="8"/><text x="559" y="969">hcp1</text></g>
<g id="c-PA0234"><circle class="w" cx="582" cy="972" r="8"/><text x="582" y="972">PA0234</text></g>
<g id="c-fha1"><circle class="b" cx="404" cy="984" r="8"/><text x="404" y="984">fha1</text></g>
<g id="c-PA0054"><circle class="w" cx="533" cy="979" r="8"/><text x="533" y="979">PA0054</text></g>
<g id="c-PA0233"><circle class="b" cx="574" cy="992" r="8"/><text x="574" y="992">PA0233</text></g>
<g id="c-PA1189"><circle class="w" cx="446" cy="997" r="8"/><text x="446" y="997">PA1189</text></g>
<g id="c-PA0082"><circle class="w" cx="481" cy="999" r="8"/><text x="481" y="999">PA0082</text></g>
<g id="c-spuD"><circle class="b" cx="512" cy="999" r="8"/><text x="512" y="999">spuD</text></g>
<g id="c-osmC"><circle class="b" cx="550" cy="998" r="8"/><text x="550" y="998">osmC</text></g>
<g id="c-PA0092"><circle class="w" cx="566" cy="1012" r="8"/><text x="566" y="1012">PA0092</text></g>
<g id="c-PA0068b"><circle class="w" cx="420" cy="1014" r="8"/><text x="420" y="1014">PA0068</text></g>
<g id="c-pilG"><circle class="b" cx="532" cy="1017" r="8"/><text x="532" y="1017">pilG</text></g>
<g id="c-opdC"><circle class="b" cx="399" cy="1029" r="8"/><text x="399" y="1029">opdC</text></g>
<g id="c-PA0845"><circle class="w" cx="453" cy="1029" r="8"/><text x="453" y="1029">PA0845</text></g>
<g id="c-PA0618"><circle class="b" cx="487" cy="1028" r="8"/><text x="487" y="1028">PA0618</text></g>
<g id="c-PA0079"><circle class="w" cx="510" cy="1032" r="8"/><text x="510" y="1032">PA0079</text></g>
<g id="c-pntAB"><circle class="b" cx="551" cy="1028" r="8"/><text x="551" y="1028">pntAB</text></g>
<g id="c-PA0071"><circle class="w" cx="427" cy="1040" r="8"/><text x="427" y="1040">PA0071</text></g>
<g id="c-PA0320"><circle class="w" cx="536" cy="1042" r="8"/><text x="536" y="1042">PA0320</text></g>
<g id="c-PA0398"><circle class="w" cx="447" cy="1054" r="8"/><text x="447" y="1054">PA0398</text></g>
<g id="c-PA0604"><circle class="b" cx="472" cy="1048" r="8"/><text x="472" y="1048">PA0604</text></g>
<g id="c-PA0105"><circle class="w" cx="498" cy="1054" r="8"/><text x="498" y="1054">PA0105</text></g>
<g id="c-aguR"><circle class="b" cx="520" cy="1053" r="8"/><text x="520" y="1053">aguR</text></g>
<g id="c-PA0492"><circle class="w" cx="410" cy="1055" r="8"/><text x="410" y="1055">PA0492</text></g>
<g id="c-PA0243"><circle class="b" cx="430" cy="1067" r="8"/><text x="430" y="1067">PA0243</text></g>
<g id="c-PA0395"><circle class="w" cx="462" cy="1067" r="8"/><text x="462" y="1067">PA0395</text></g>
<g id="c-PA0115"><circle class="w" cx="484" cy="1065" r="8"/><text x="484" y="1065">PA0115</text></g>
<g id="c-ORF48"><use xlink:href="#hx" class="p" transform="translate(231 700) scale(15 13)"/><text class="h" x="231" y="700">ORF48</text></g>
<g id="c-ORF32"><use xlink:href="#hx" class="p" transform="translate(304 718) scale(14 14)"/><text class="h" x="304" y="718">ORF32</text></g>
<g id="c-ORF71"><use xlink:href="#hx" class="r" transform="translate(246 744) scale(15 14)"/><text class="h" x="246" y="744">ORF71</text></g>
<g id="c-ORF59"><use xlink:href="#hx" class="r" transform="translate(484 726) scale(14 13)"/><text class="h" x="484" y="726">ORF59</text></g>
<g id="c-ORF39"><use xlink:href="#hx" class="p" transform="translate(458 930) scale(15 13)"/><text class="h" x="458" y="930">ORF39</text></g>
<g id="c-ORF56"><use xlink:href="#hx" class="p" transform="translate(42 784) scale(9 8)"/><text class="h" x="42" y="784">ORF56</text></g>
<g id="c-ORF34"><use xlink:href="#hx" class="p" transform="translate(67 778) scale(7 6)"/><text class="h" x="67" y="778">ORF34</text></g>
<g id="c-ORF60"><use xlink:href="#hx" class="r" transform="translate(90 782) scale(7 6)"/><text class="h" x="90" y="782">ORF60</text></g>
<g id="c-ORF62"><use xlink:href="#hx" class="r" transform="translate(113 786) scale(7 6)"/><text class="h" x="113" y="786">ORF62</text></g>
<g id="c-ORF61"><use xlink:href="#hx" class="r" transform="translate(125 803) scale(9 8)"/><text class="h" x="125" y="803">ORF61</text></g>
<g id="c-ORF63"><use xlink:href="#hx" class="r" transform="translate(123 822) scale(7 6)"/><text class="h" x="123" y="822">ORF63</text></g>
<g id="c-ORF67"><use xlink:href="#hx" class="r" transform="translate(205 815) scale(16 15)"/><text class="h" x="205" y="815">ORF67</text></g>
<g id="c-ORF58"><use xlink:href="#hx" class="r" transform="translate(236 800) scale(16 15)"/><text class="h" x="236" y="800">ORF58</text></g>
<g id="c-ORF66"><use xlink:href="#hx" class="r" transform="translate(197 838) scale(16 15)"/><text class="h" x="197" y="838">ORF66</text></g>
<g id="c-ORF68"><use xlink:href="#hx" class="r" transform="translate(230 833) scale(16 15)"/><text class="h" x="230" y="833">ORF68</text></g>
<g id="c-ORF44"><use xlink:href="#hx" class="p" transform="translate(286 829) scale(10 10)"/><text class="h" x="286" y="829">ORF44</text></g>
<g id="c-ORF40"><use xlink:href="#hx" class="p" transform="translate(165 860) scale(15 14)"/><text class="h" x="165" y="860">ORF40</text></g>
<g id="c-ORF46"><use xlink:href="#hx" class="p" transform="translate(212 858) scale(12 12)"/><text class="h" x="212" y="858">ORF46</text></g>
<g id="c-ORF42"><use xlink:href="#hx" class="p" transform="translate(240 862) scale(15 14)"/><text class="h" x="240" y="862">ORF42</text></g>
<g id="c-ORF57"><use xlink:href="#hx" class="r" transform="translate(190 874) scale(15 14)"/><text class="h" x="190" y="874">ORF57</text></g>
<g id="c-ORF45"><use xlink:href="#hx" class="p" transform="translate(211 883) scale(12 11)"/><text class="h" x="211" y="883">ORF45</text></g>
<g id="c-ORF49"><use xlink:href="#hx" class="p" transform="translate(233 891) scale(12 11)"/><text class="h" x="233" y="891">ORF49</text></g>
<g id="c-ORF25"><use xlink:href="#hx" class="p" transform="translate(257 882) scale(12 11)"/><text class="h" x="257" y="882">ORF25</text></g>
<g id="c-ORF38"><use xlink:href="#hx" class="p" transform="translate(284 911) scale(7 6)"/><text class="h" x="284" y="911">ORF38</text></g>
<g id="c-ORF37"><use xlink:href="#hx" class="p" transform="translate(288 946) scale(7 6)"/><text class="h" x="288" y="946">ORF37</text></g>
</g>
</svg>
